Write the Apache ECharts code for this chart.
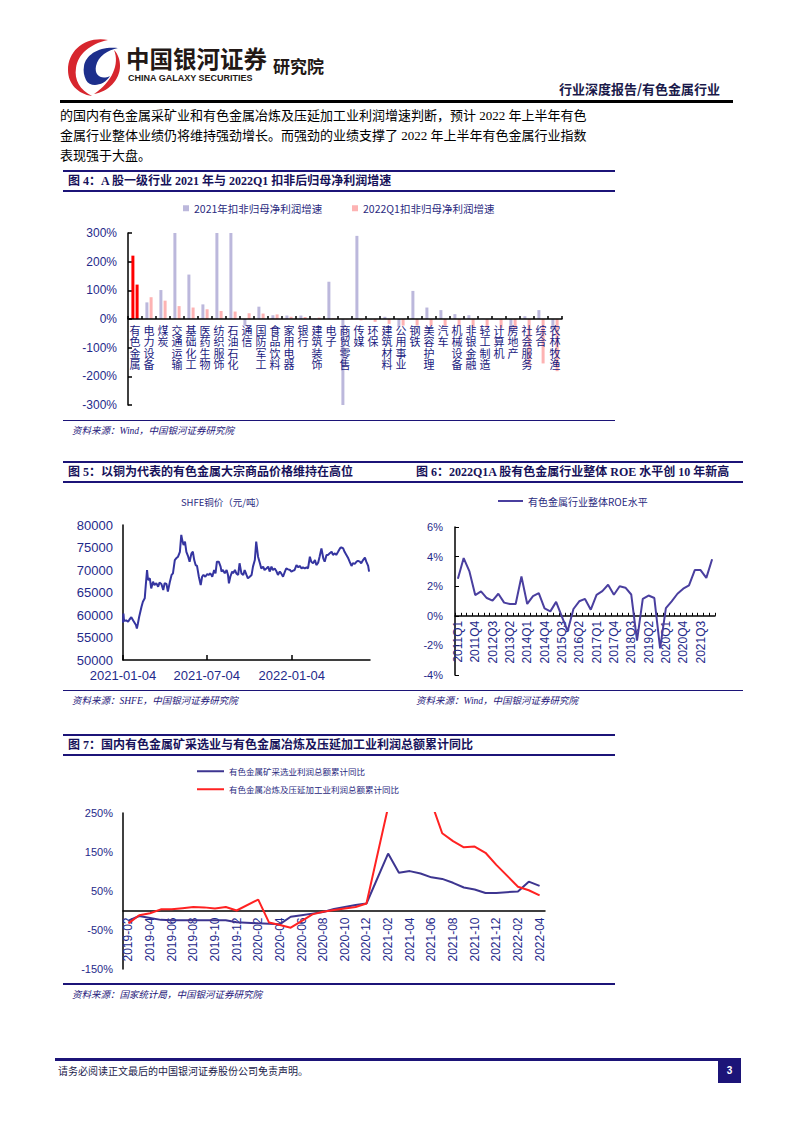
<!DOCTYPE html>
<html><head><meta charset="utf-8">
<script src="https://cdn.jsdelivr.net/npm/echarts@6/dist/echarts.min.js"></script>
<style>
html,body{margin:0;padding:0;background:#fff;}
#page{position:relative;width:793px;height:1122px;overflow:hidden;font-family:"Liberation Serif","Noto Sans CJK SC",serif;color:#000;}
.abs{position:absolute;white-space:nowrap;}
.para{position:absolute;left:60px;font-size:13px;line-height:20px;white-space:nowrap;}
.fighead{position:absolute;border-top:2px solid #1c1478;border-bottom:2px solid #1c1478;height:18px;line-height:18px;font-weight:bold;font-size:12px;color:#17125a;white-space:nowrap;font-family:"Liberation Serif","Noto Sans CJK SC",serif;}
.srcline{position:absolute;height:1.5px;background:#1c1478;}
.src{position:absolute;font-size:9.5px;font-style:italic;color:#1c1478;white-space:nowrap;line-height:12px;}
</style></head><body>
<div id="page">
  <svg class="abs" style="left:64px;top:36px" width="60" height="62" viewBox="0 0 60 62">
    <path d="M44 4 C22 0 4 14 4 34 C4 48 14 58 28 60 C16 54 10 44 12 32 C14 18 26 8 44 4 Z" fill="#d7262e"/>
    <path d="M20 30 C22 18 36 10 54 12 C44 14 34 20 32 30 C30 40 38 44 46 40 C40 50 26 52 22 44 C20 40 19 35 20 30 Z" fill="#1d2f8c"/>
    <path d="M30 58 C44 56 56 44 56 30 C56 24 54 18 50 14 C56 28 48 46 30 58 Z" fill="#d7262e"/>
  </svg>
  <div class="abs" style="left:126px;top:43px;font-size:23.5px;font-weight:bold;font-family:'Noto Sans CJK SC';color:#231815;line-height:30px;">中国银河证券</div>
  <div class="abs" style="left:128px;top:73px;font-size:9px;font-weight:bold;font-family:'Liberation Sans';color:#231815;line-height:11px;">CHINA GALAXY SECURITIES</div>
  <div class="abs" style="left:273px;top:55px;font-size:17px;font-weight:bold;font-family:'Noto Sans CJK SC';color:#231815;line-height:22px;">研究院</div>
  <div class="abs" style="right:73px;top:80px;font-size:13px;font-weight:bold;font-family:'Noto Sans CJK SC';color:#1a1a4a;line-height:17px;">行业深度报告/有色金属行业</div>
  <div class="abs" style="left:60px;top:100px;width:673px;height:2.5px;background:#000;"></div>

  <div class="para" style="top:106px;">的国内有色金属采矿业和有色金属冶炼及压延加工业利润增速判断，预计 2022 年上半年有色</div>
  <div class="para" style="top:126px;">金属行业整体业绩仍将维持强劲增长。而强劲的业绩支撑了 2022 年上半年有色金属行业指数</div>
  <div class="para" style="top:146px;">表现强于大盘。</div>

  <div class="fighead" style="left:63px;top:170px;width:547px;padding-left:5px;">图 4：A 股一级行业 2021 年与 2022Q1 扣非后归母净利润增速</div>
  <div class="srcline" style="left:63px;top:419.5px;width:552px;"></div>
  <div class="src" style="left:72px;top:425px;">资料来源：Wind，中国银河证券研究院</div>

  <div class="fighead" style="left:63px;top:461px;width:337px;padding-left:5px;">图 5：以铜为代表的有色金属大宗商品价格维持在高位</div>
  <div class="fighead" style="left:400px;top:461px;width:327px;padding-left:16px;">图 6：2022Q1A 股有色金属行业整体 ROE 水平创 10 年新高</div>
  <div class="srcline" style="left:63px;top:689.5px;width:680px;"></div>
  <div class="src" style="left:72px;top:695px;">资料来源：SHFE，中国银河证券研究院</div>
  <div class="src" style="left:416px;top:695px;">资料来源：Wind，中国银河证券研究院</div>

  <div class="fighead" style="left:63px;top:734px;width:547px;padding-left:5px;">图 7：国内有色金属矿采选业与有色金属冶炼及压延加工业利润总额累计同比</div>
  <div class="srcline" style="left:63px;top:983px;width:552px;"></div>
  <div class="src" style="left:72px;top:989px;">资料来源：国家统计局，中国银河证券研究院</div>

  <div class="abs" style="left:55px;top:1058px;width:686px;height:3px;background:#1c1478;"></div>
  <div class="abs" style="left:58px;top:1064px;font-size:10px;color:#1a1a4a;line-height:14px;font-family:'Noto Sans CJK SC';">请务必阅读正文最后的中国银河证券股份公司免责声明。</div>
  <div class="abs" style="left:718px;top:1058px;width:23px;height:25px;background:#1c1478;color:#fff;font-size:10px;font-weight:bold;font-family:'Liberation Sans';text-align:center;line-height:25px;">3</div>

  <div id="chart" style="position:absolute;left:0;top:0;width:793px;height:1122px;z-index:2;"></div>
</div>
<script>
// ---------- Figure 4 data ----------
const industries = ['有色金属','电力设备','煤炭','交通运输','基础化工','医药生物','纺织服饰','石油石化','通信','国防军工','食品饮料','家用电器','银行','建筑装饰','电子','商贸零售','传媒','环保','建筑材料','公用事业','钢铁','美容护理','汽车','机械设备','非银金融','轻工制造','计算机','房地产','社会服务','综合','农林牧渔'];
const growth2021 = [221, 58, 101, 300, 155, 51, 300, 300, -23, 43, 13, 12, 12, 2, 130, -300, 290, -2, 8, -28, 98, 40, 31, 17, 13, 1, -2, -47, 10, 31, -40];
const growth2022Q1 = [120, 76, 64, 45, 40, 34, 28, 26, 20, 19, 16, 8, 7, 5, 2, -2, -5, -10, -17, -23, -23, -24, -25, -26, -29, -30, -31, -35, -165, -155, -182];
const highlightIndustry = '有色金属';

// ---------- Figure 5 data ----------
const copperDates = ['2021-01-04','2021-01-05','2021-01-06','2021-01-08','2021-01-11','2021-01-15','2021-01-18','2021-01-22','2021-01-26','2021-01-29','2021-02-01','2021-02-03','2021-02-05','2021-02-08','2021-02-13','2021-02-16','2021-02-20','2021-02-22','2021-02-25','2021-02-27','2021-03-03','2021-03-06','2021-03-10','2021-03-13','2021-03-17','2021-03-21','2021-03-24','2021-03-28','2021-04-01','2021-04-04','2021-04-08','2021-04-11','2021-04-15','2021-04-19','2021-04-22','2021-04-26','2021-04-29','2021-05-03','2021-05-07','2021-05-10','2021-05-12','2021-05-15','2021-05-18','2021-05-21','2021-05-25','2021-05-28','2021-06-01','2021-06-04','2021-06-07','2021-06-10','2021-06-13','2021-06-17','2021-06-21','2021-06-24','2021-06-27','2021-07-01','2021-07-05','2021-07-08','2021-07-12','2021-07-16','2021-07-20','2021-07-23','2021-07-26','2021-07-30','2021-08-03','2021-08-05','2021-08-08','2021-08-12','2021-08-16','2021-08-19','2021-08-21','2021-08-24','2021-08-28','2021-08-30','2021-09-03','2021-09-06','2021-09-10','2021-09-13','2021-09-17','2021-09-21','2021-09-24','2021-09-28','2021-10-01','2021-10-05','2021-10-09','2021-10-12','2021-10-16','2021-10-19','2021-10-23','2021-10-27','2021-10-30','2021-11-03','2021-11-06','2021-11-10','2021-11-14','2021-11-17','2021-11-21','2021-11-24','2021-11-28','2021-12-02','2021-12-05','2021-12-09','2021-12-12','2021-12-16','2021-12-20','2021-12-23','2021-12-27','2021-12-31','2022-01-03','2022-01-07','2022-01-10','2022-01-14','2022-01-18','2022-01-21','2022-01-25','2022-01-28','2022-02-01','2022-02-05','2022-02-08','2022-02-12','2022-02-15','2022-02-19','2022-02-23','2022-02-26','2022-03-02','2022-03-05','2022-03-09','2022-03-13','2022-03-16','2022-03-20','2022-03-23','2022-03-27','2022-03-31','2022-04-03','2022-04-07','2022-04-10','2022-04-14','2022-04-18','2022-04-21','2022-04-25','2022-04-28','2022-05-02','2022-05-06','2022-05-09','2022-05-13','2022-05-16','2022-05-20','2022-05-24','2022-05-27','2022-05-31','2022-06-03','2022-06-07','2022-06-11','2022-06-14','2022-06-18','2022-06-20'];
const copperPrices = [58300,60300,59000,58700,58800,58500,59000,59500,58800,58300,57800,57000,58000,59600,61850,62950,63700,66300,70000,67800,68150,65900,67400,66650,67050,66300,67200,66900,65550,67050,66900,65200,67200,68900,69250,72200,72600,72950,74050,77800,76650,75550,76300,74050,72950,71850,73700,74050,72200,71100,70900,68500,66650,68500,68900,68500,69100,68900,69250,68500,70000,69250,71850,71850,70750,69650,70000,69250,70000,68900,67050,68500,69650,69250,70000,69250,68900,71500,69250,68900,70000,68900,68150,68500,68900,70750,72200,76300,72950,71500,70350,70750,70000,70350,70750,69650,70750,70000,70350,69650,68900,69650,69250,68500,69650,70350,70150,70000,69650,69850,70000,71100,70600,70900,70350,70600,70350,70600,70350,72950,71850,71500,72200,71100,71650,72950,74800,72600,71850,73350,73350,73700,74050,73350,73700,73350,74050,74800,75050,74800,74050,73350,72600,71850,70900,71500,71350,71850,72050,71850,71500,72200,72750,71850,70900,69650];
const copperTickDates = ['2021-01-04','2021-07-04','2022-01-04'];

// ---------- Figure 6 data ----------
const quarters = ['2011Q1','2011Q2','2011Q3','2011Q4','2012Q1','2012Q2','2012Q3','2012Q4','2013Q1','2013Q2','2013Q3','2013Q4','2014Q1','2014Q2','2014Q3','2014Q4','2015Q1','2015Q2','2015Q3','2015Q4','2016Q1','2016Q2','2016Q3','2016Q4','2017Q1','2017Q2','2017Q3','2017Q4','2018Q1','2018Q2','2018Q3','2018Q4','2019Q1','2019Q2','2019Q3','2019Q4','2020Q1','2020Q2','2020Q3','2020Q4','2021Q1','2021Q2','2021Q3','2021Q4','2022Q1'];
const roe = [2.5, 3.9, 3.0, 1.4, 1.65, 1.2, 1.03, 1.49, 0.89, 0.8, 0.8, 2.65, 0.8, 1.33, 1.53, 0.5, 0.3, 0.94, -0.05, -1.03, 0.46, 0.98, 1.14, 0.41, 1.42, 1.67, 2.1, 1.42, 2.0, 1.9, 1.44, -1.67, 1.14, 1.37, 1.2, -2.2, 0.52, 0.98, 1.49, 1.83, 2.06, 3.09, 3.09, 2.56, 3.82];

// ---------- Figure 7 data ----------
const months = ['2019-02','2019-03','2019-04','2019-05','2019-06','2019-07','2019-08','2019-09','2019-10','2019-11','2019-12','2020-01','2020-02','2020-03','2020-04','2020-05','2020-06','2020-07','2020-08','2020-09','2020-10','2020-11','2020-12','2021-01','2021-02','2021-03','2021-04','2021-05','2021-06','2021-07','2021-08','2021-09','2021-10','2021-11','2021-12','2022-01','2022-02','2022-03','2022-04'];
const miningProfitYoY = [-26, -14, -19, -24, -25, -25, -25, -25, -25, -25, -30, null, -33, -34, -35, -16, -12, -8, -4, 4, 9, 14, 18, null, 146, 97, 101, 95, 85, 81, 71, 59, 54, 45, 45, null, 49, 74, 63];
const smeltingProfitYoY = [-33, -12, -7, 3, 3, 6, 9, 8, 5, 9, 0, null, 28, -31, -37, -44, -27, -10, -3, 1, 5, 9, 18, null, 265, 330, 320, 300, 277, 198, 178, 162, 164, 148, 117, null, 61, 52, 39];

// ---------- chart ----------
const chart = echarts.init(document.getElementById('chart'), null, {renderer: 'svg'});
const LBL = '#1f2a8a';
const CJK = 'Noto Sans CJK SC';
const ARIAL = 'Liberation Sans';
function ts(s) { const p = s.split('-').map(Number); return new Date(p[0], p[1] - 1, p[2]).getTime(); }
function pad(n) { return (n < 10 ? '0' : '') + n; }
const tickTs = copperTickDates.map(ts);

const grids = [
  {left: 128, top: 233, width: 434, height: 172},
  {left: 123, top: 525, width: 247, height: 135},
  {left: 455, top: 527, width: 260, height: 148},
  {left: 123, top: 813, width: 422, height: 156}
];
const yRange = [[-300, 300], [50000, 80000], [-4, 6], [-150, 250]];
// offset that lifts a bottom category axis up to the y = 0 line of its grid
function zeroOffset(g) { const r = yRange[g]; return -grids[g].height * (0 - r[0]) / (r[1] - r[0]); }

const option = {
  animation: false,
  backgroundColor: 'transparent',
  textStyle: {fontFamily: ARIAL},
  grid: grids,
  legend: [
    {data: ['2021年扣非归母净利润增速'], left: 183, top: 203, padding: 0, icon: 'rect', itemWidth: 6, itemHeight: 6, itemGap: 0,
     textStyle: {fontSize: 10.5, color: '#2a2a80', fontFamily: CJK}},
    {data: ['2022Q1扣非归母净利润增速'], left: 352, top: 203, padding: 0, icon: 'rect', itemWidth: 6, itemHeight: 6, itemGap: 0,
     textStyle: {fontSize: 10.5, color: '#2a2a80', fontFamily: CJK}},
    {data: ['有色金属行业整体ROE水平'], left: 498, top: 496, padding: 0, icon: 'rect', itemWidth: 25, itemHeight: 2,
     textStyle: {fontSize: 10, color: '#2a2a80', fontFamily: CJK}},
    {data: ['有色金属矿采选业利润总额累计同比'], left: 197, top: 767, padding: 0, icon: 'rect', itemWidth: 27, itemHeight: 2,
     textStyle: {fontSize: 8.5, color: '#2a2a80', fontFamily: CJK}},
    {data: ['有色金属冶炼及压延加工业利润总额累计同比'], left: 197, top: 785, padding: 0, icon: 'rect', itemWidth: 27, itemHeight: 2,
     textStyle: {fontSize: 8.5, color: '#2a2a80', fontFamily: CJK}}
  ],
  graphic: [
    {type: 'text', x: 223, y: 502, style: {text: 'SHFE铜价（元/吨）', align: 'center', verticalAlign: 'middle', fontSize: 9.5, fill: '#2a2a80', fontFamily: CJK}}
  ],
  xAxis: [
    {gridIndex: 0, type: 'category', data: industries, z: 5, position: 'bottom', offset: zeroOffset(0),
     axisLine: {onZero: false, lineStyle: {color: '#000', width: 1.5}},
     axisTick: {show: true, inside: true, length: 3, lineStyle: {color: '#000', width: 1.5}},
     axisLabel: {interval: 0, formatter: v => v.split('').join('\n'), fontSize: 11, lineHeight: 11.5, color: '#1a1a80', fontFamily: CJK, margin: 5}},
    {gridIndex: 1, type: 'value', min: ts('2021-01-04'), max: ts('2022-06-22'), scale: true,
     axisLine: {show: true, onZero: false, lineStyle: {color: '#000', width: 1.5}}, splitLine: {show: false},
     axisTick: {show: true, inside: true, length: 5, customValues: tickTs, lineStyle: {color: '#000', width: 1.5}},
     axisLabel: {customValues: tickTs, fontSize: 13, color: LBL, margin: 9, hideOverlap: false, showMinLabel: true,
       formatter: v => { const d = new Date(v); return d.getFullYear() + '-' + pad(d.getMonth() + 1) + '-' + pad(d.getDate()); }}},
    {gridIndex: 2, type: 'category', data: quarters, boundaryGap: true, position: 'bottom', offset: zeroOffset(2),
     axisLine: {onZero: false, lineStyle: {color: '#000', width: 1.5}},
     axisTick: {show: true, inside: true, length: 3, interval: 0, lineStyle: {color: '#000'}},
     axisLabel: {interval: 2, rotate: 90, fontSize: 12, color: LBL, margin: 5}},
    {gridIndex: 3, type: 'category', data: months, boundaryGap: true, position: 'bottom', offset: zeroOffset(3),
     axisLine: {onZero: false, lineStyle: {color: '#000', width: 1.5}},
     axisTick: {show: false},
     axisLabel: {interval: 1, rotate: 90, fontSize: 12, color: LBL, margin: 7}}
  ],
  yAxis: [
    {gridIndex: 0, type: 'value', min: yRange[0][0], max: yRange[0][1], interval: 100, splitLine: {show: false},
     axisLine: {show: true, onZero: false, lineStyle: {color: '#000', width: 1.5}},
     axisTick: {show: true, inside: true, length: 4, lineStyle: {color: '#000', width: 1.5}},
     axisLabel: {formatter: '{value}%', fontSize: 12, color: LBL, margin: 11}},
    {gridIndex: 1, type: 'value', min: yRange[1][0], max: yRange[1][1], interval: 5000, splitLine: {show: false},
     axisLine: {show: true, onZero: false, lineStyle: {color: '#000', width: 1.5}}, axisTick: {show: false},
     axisLabel: {fontSize: 13, color: LBL, margin: 10, formatter: v => String(v)}},
    {gridIndex: 2, type: 'value', min: yRange[2][0], max: yRange[2][1], interval: 2, splitLine: {show: false},
     axisLine: {show: true, onZero: false, lineStyle: {color: '#000', width: 1.5}},
     axisTick: {show: true, inside: true, length: 4, lineStyle: {color: '#000'}},
     axisLabel: {formatter: '{value}%', fontSize: 11, color: LBL, margin: 12}},
    {gridIndex: 3, type: 'value', min: yRange[3][0], max: yRange[3][1], interval: 100, splitLine: {show: false},
     axisLine: {show: true, onZero: false, lineStyle: {color: '#000', width: 1.5}}, axisTick: {show: false},
     axisLabel: {formatter: '{value}%', fontSize: 11, color: LBL, margin: 10}}
  ],
  series: [
    {name: '2021年扣非归母净利润增速', type: 'bar', xAxisIndex: 0, yAxisIndex: 0, barWidth: 3, barGap: '40%', clip: true,
     itemStyle: {color: '#bcb8dc'},
     data: growth2021.map((v, i) => industries[i] === highlightIndustry ? {value: v, itemStyle: {color: '#ff0000'}} : v)},
    {name: '2022Q1扣非归母净利润增速', type: 'bar', xAxisIndex: 0, yAxisIndex: 0, barWidth: 3, barGap: '40%', clip: true,
     itemStyle: {color: '#fdb3b3'},
     data: growth2022Q1.map((v, i) => industries[i] === highlightIndustry ? {value: v, itemStyle: {color: '#ff0000'}} : v)},
    {name: 'SHFE铜价', type: 'line', xAxisIndex: 1, yAxisIndex: 1, showSymbol: false, symbol: 'none',
     lineStyle: {color: '#3535a0', width: 2}, itemStyle: {color: '#3535a0'},
     data: copperDates.map((d, i) => [ts(d), copperPrices[i]])},
    {name: '有色金属行业整体ROE水平', type: 'line', xAxisIndex: 2, yAxisIndex: 2, showSymbol: false, symbol: 'none',
     lineStyle: {color: '#4a3f9f', width: 2}, itemStyle: {color: '#4a3f9f'}, data: roe},
    {name: '有色金属矿采选业利润总额累计同比', type: 'line', xAxisIndex: 3, yAxisIndex: 3, showSymbol: false, symbol: 'none', connectNulls: true, clip: true,
     lineStyle: {color: '#3d3590', width: 2}, itemStyle: {color: '#3d3590'}, data: miningProfitYoY},
    {name: '有色金属冶炼及压延加工业利润总额累计同比', type: 'line', xAxisIndex: 3, yAxisIndex: 3, showSymbol: false, symbol: 'none', connectNulls: true, clip: true,
     lineStyle: {color: '#ff2222', width: 2}, itemStyle: {color: '#ff2222'}, data: smeltingProfitYoY}
  ]
};
chart.setOption(option);
</script>
</body></html>
